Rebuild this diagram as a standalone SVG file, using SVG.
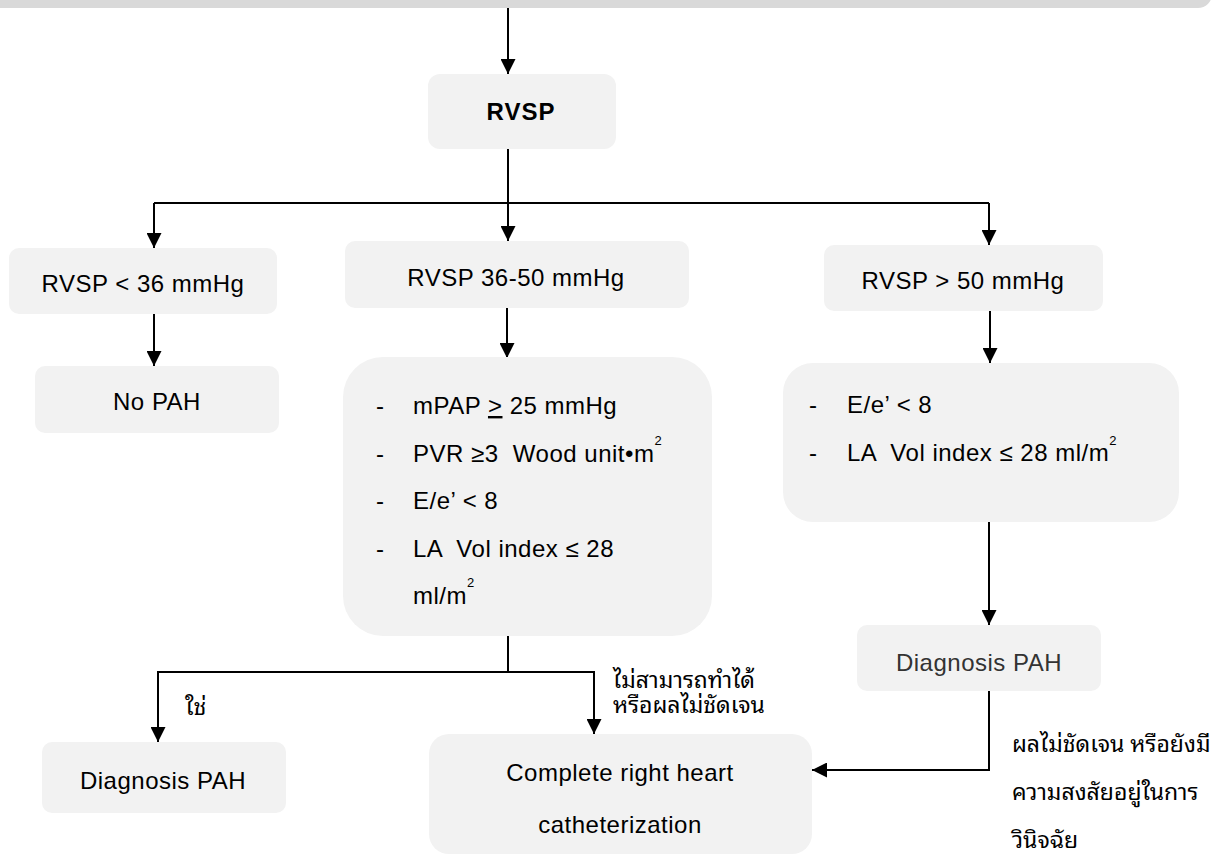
<svg xmlns="http://www.w3.org/2000/svg" width="1224" height="856" viewBox="0 0 1224 856">
  <defs>
    <marker id="arr" markerUnits="userSpaceOnUse" markerWidth="15" markerHeight="15" refX="15" refY="7.5" orient="auto">
      <path d="M0,0 L15,7.5 L0,15 Z" fill="#000"/>
    </marker>
    <style>
      .box { fill: #f2f2f2; }
      .t { font-family: "Liberation Sans", Arial, sans-serif; font-size: 24px; letter-spacing: 0.5px; fill: #000; white-space: pre; }
      .c { text-anchor: middle; }
      .b { font-weight: bold; letter-spacing: 1px; }
      .sup { font-size: 13px; letter-spacing: 0; }
      .th { font-family: "Noto Sans Thai Looped", "Noto Sans Thai", "Noto Sans", sans-serif; font-size: 23px; font-weight: normal; fill: #000; }
      .ln { fill: none; stroke: #000; stroke-width: 2; }
      .ar { fill: none; stroke: #000; stroke-width: 2; marker-end: url(#arr); }
    </style>
  </defs>
  <rect width="1224" height="856" fill="#fff"/>

  <g id="top-bar">
    <rect x="-20" y="-30" width="1232" height="38" rx="14" fill="#d9d9d9"/>
  </g>

  <g id="connectors">
    <line class="ar" x1="508" y1="8" x2="508" y2="74"/>
    <line class="ar" x1="508" y1="149" x2="508" y2="241"/>
    <polyline class="ln" points="154,203 989,203"/>
    <polyline class="ar" points="154,203 154,248"/>
    <polyline class="ar" points="989,203 989,245"/>
    <line class="ar" x1="154" y1="314" x2="154" y2="366"/>
    <line class="ar" x1="507" y1="308" x2="507" y2="358"/>
    <line class="ar" x1="990" y1="311" x2="990" y2="363"/>
    <line class="ln" x1="508" y1="619" x2="508" y2="672"/>
    <polyline class="ar" points="508,672 158,672 158,742"/>
    <polyline class="ar" points="508,672 594,672 594,734"/>
    <line class="ar" x1="989" y1="522" x2="989" y2="625"/>
    <polyline class="ar" points="989,691 989,770 812,770"/>
  </g>

  <g id="node-rvsp">
    <rect class="box" x="428" y="74" width="188" height="75" rx="12"/>
    <text class="t c b" x="521" y="120">RVSP</text>
  </g>

  <g id="node-rvsp-lt36">
    <rect class="box" x="9" y="248" width="268" height="66" rx="10"/>
    <text class="t c" x="143" y="292">RVSP &lt; 36 mmHg</text>
  </g>

  <g id="node-rvsp-36-50">
    <rect class="box" x="345" y="241" width="344" height="67" rx="10"/>
    <text class="t c" x="516" y="286">RVSP 36-50 mmHg</text>
  </g>

  <g id="node-rvsp-gt50">
    <rect class="box" x="824" y="245" width="279" height="66" rx="10"/>
    <text class="t c" x="963" y="289">RVSP &gt; 50 mmHg</text>
  </g>

  <g id="node-no-pah">
    <rect class="box" x="35" y="366" width="244" height="67" rx="10"/>
    <text class="t c" x="157" y="410">No PAH</text>
  </g>

  <g id="node-criteria-mid">
    <rect class="box" x="343" y="357" width="369" height="279" rx="40"/>
    <text class="t" x="376" y="414">-</text>
    <text class="t" x="413" y="414">mPAP <tspan text-decoration="underline">&gt;</tspan> 25 mmHg</text>
    <text class="t" x="376" y="462">-</text>
    <text class="t" x="413" y="462">PVR ≥3  Wood unit•m<tspan class="sup" dy="-17">2</tspan></text>
    <text class="t" x="376" y="509">-</text>
    <text class="t" x="413" y="509">E/e’ &lt; 8</text>
    <text class="t" x="376" y="557">-</text>
    <text class="t" x="413" y="557">LA  Vol index ≤ 28</text>
    <text class="t" x="413" y="604">ml/m<tspan class="sup" dy="-17">2</tspan></text>
  </g>

  <g id="node-criteria-right">
    <rect class="box" x="783" y="363" width="396" height="159" rx="30"/>
    <text class="t" x="809" y="413">-</text>
    <text class="t" x="847" y="413">E/e’ &lt; 8</text>
    <text class="t" x="809" y="461">-</text>
    <text class="t" x="847" y="461">LA  Vol index ≤ 28 ml/m<tspan class="sup" dy="-16">2</tspan></text>
  </g>

  <g id="node-diagnosis-right">
    <rect class="box" x="857" y="625" width="244" height="66" rx="10"/>
    <text class="t c" x="979" y="671" style="fill:#333">Diagnosis PAH</text>
  </g>

  <g id="node-diagnosis-left">
    <rect class="box" x="42" y="742" width="244" height="71" rx="10"/>
    <text class="t c" x="163" y="789">Diagnosis PAH</text>
  </g>

  <g id="node-rhc">
    <rect class="box" x="429" y="734" width="383" height="120" rx="20"/>
    <text class="t c" x="620" y="781">Complete right heart</text>
    <text class="t c" x="620" y="833">catheterization</text>
  </g>

  <g id="labels">
    <text class="th" x="185" y="715">ใช่</text>
    <text class="th" x="613" y="688">ไม่สามารถทำได้</text>
    <text class="th" x="613" y="713">หรือผลไม่ชัดเจน</text>
    <text class="th" x="1012" y="752">ผลไม่ชัดเจน หรือยังมี</text>
    <text class="th" x="1012" y="800">ความสงสัยอยู่ในการ</text>
    <text class="th" x="1012" y="848">วินิจฉัย</text>
  </g>
</svg>
